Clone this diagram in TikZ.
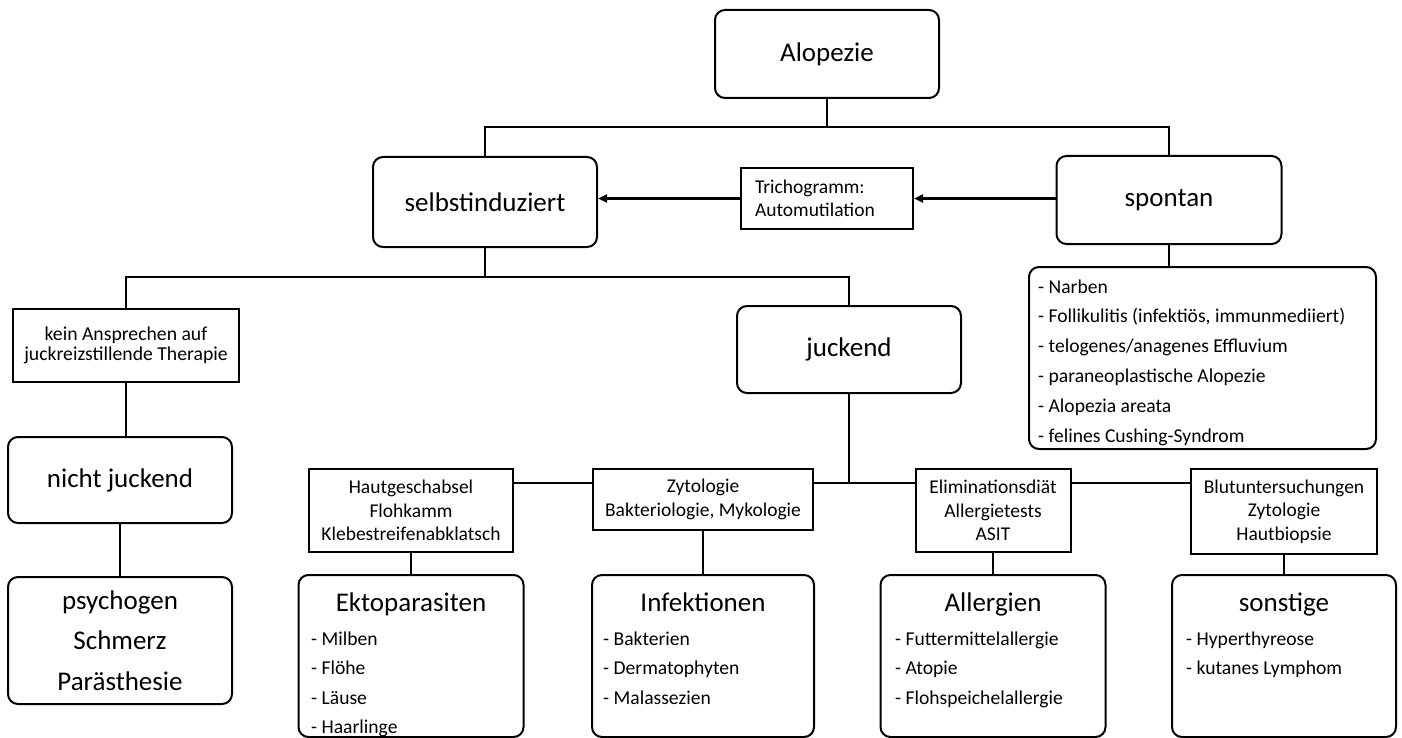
\documentclass[tikz,border=0pt]{standalone}
\usepackage{fontspec}
\setmainfont{Carlito}
\usetikzlibrary{arrows.meta}
\tikzset{
 rbox/.style={draw, line width=2pt, rounded corners=10pt, inner sep=0pt, align=center},
 sbox/.style={draw, line width=2pt, inner sep=0pt, align=center},
 big/.style={font=\fontsize{27}{32}\selectfont},
 small/.style={font=\fontsize{19.5}{23.5}\selectfont},
 conn/.style={line width=2pt},
 arr/.style={line width=2.3pt, -{Triangle[length=9pt,width=8pt]}},
 txt/.style={inner sep=0pt, font=\fontsize{19.6}{23}\selectfont, anchor=base west},
 ttl/.style={inner sep=0pt, font=\fontsize{27}{32}\selectfont, anchor=base},
}
\begin{document}
\begin{tikzpicture}[x=1pt,y=-1pt]
\useasboundingbox (0,0) rectangle (1402,738);
% top level
\node[rbox,big,minimum width=224pt,minimum height=88pt] (alo) at (827,54) {Alopezie};
\node[rbox,big,minimum width=224pt,minimum height=90pt] (selbst) at (485,202) {selbstinduziert};
\node[rbox,big,minimum width=225pt,minimum height=88pt] (spontan) at (1169,200) {spontan};
\node[sbox,align=left,text width=144pt,minimum width=172pt,minimum height=61pt,font=\fontsize{19.5}{23}\selectfont] (tricho) at (827,198.5) {Trichogramm:\\Automutilation};
% spontan list
\node[rbox,minimum width=347pt,minimum height=182pt] (list) at (1202.5,358) {};
\node[txt] (l1) at (1038,293) {- Narben};
\node[txt] (l2) at (1038,322.8) {- Follikulitis (infektiös, immunmediiert)};
\node[txt] (l3) at (1038,352.6) {- telogenes/anagenes Effluvium};
\node[txt] (l4) at (1038,382.4) {- paraneoplastische Alopezie};
\node[txt] (l5) at (1038,412.2) {- Alopezia areata};
\node[txt] (l6) at (1038,442) {- felines Cushing-Syndrom};
% second level
\node[sbox,minimum width=226pt,minimum height=73pt,font=\fontsize{19.7}{20.5}\selectfont] (kein) at (126,345.5) {kein Ansprechen auf\\juckreizstillende Therapie};
\node[rbox,big,minimum width=224pt,minimum height=87pt] (juckend) at (849,349.5) {juckend};
\node[rbox,big,minimum width=224pt,minimum height=86pt] (nicht) at (120,480) {nicht juckend};
\node[rbox,minimum width=224pt,minimum height=127pt,font=\fontsize{27}{40.5}\selectfont] (psych) at (120,640.5) {psychogen\\Schmerz\\Parästhesie};
% test boxes
\node[sbox,small,minimum width=204pt,minimum height=83pt] (haut) at (411,510.5) {Hautgeschabsel\\Flohkamm\\Klebestreifenabklatsch};
\node[sbox,small,minimum width=220pt,minimum height=61pt] (zyto) at (703,499.5) {Zytologie\\Bakteriologie, Mykologie};
\node[sbox,small,minimum width=155pt,minimum height=83pt] (elim) at (993,510.5) {Eliminationsdiät\\Allergietests\\ASIT};
\node[sbox,small,minimum width=186pt,minimum height=85pt] (blut) at (1284,511.5) {Blutuntersuchungen\\Zytologie\\Hautbiopsie};
% bottom boxes
\node[rbox,minimum width=225pt,minimum height=162pt] (ekto) at (411,656) {};
\node[rbox,minimum width=222pt,minimum height=162pt] (infek) at (703,656) {};
\node[rbox,minimum width=225pt,minimum height=162pt] (allerg) at (993,656) {};
\node[rbox,minimum width=224pt,minimum height=162pt] (sonst) at (1284,656) {};
\node[ttl] (ektot) at (411,611) {Ektoparasiten};
\node[ttl] (infekt) at (703,611) {Infektionen};
\node[ttl] (allergt) at (993,611) {Allergien};
\node[ttl] (sonstt) at (1284,611) {sonstige};
\node[txt] (e1) at (311,645) {- Milben};
\node[txt] (e2) at (311,674.5) {- Flöhe};
\node[txt] (e3) at (311,704) {- Läuse};
\node[txt] (e4) at (311,733.5) {- Haarlinge};
\node[txt] (i1) at (603,645) {- Bakterien};
\node[txt] (i2) at (603,674.5) {- Dermatophyten};
\node[txt] (i3) at (603,704) {- Malassezien};
\node[txt] (a1) at (895,645) {- Futtermittelallergie};
\node[txt] (a2) at (895,674.5) {- Atopie};
\node[txt] (a3) at (895,704) {- Flohspeichelallergie};
\node[txt] (s1) at (1186,645) {- Hyperthyreose};
\node[txt] (s2) at (1186,674.5) {- kutanes Lymphom};
% connectors
\coordinate (j1) at (827,127);
\draw[conn] (alo.south) -- (j1);
\draw[conn] (selbst.north) |- (j1) -| (spontan.north);
\draw[arr] (spontan.west |- tricho.east) -- (tricho.east);
\draw[arr] (tricho.west) -- (tricho.west -| selbst.east);
\draw[conn] (spontan.south) -- (spontan.south |- list.north);
\coordinate (j2) at (485,277);
\draw[conn] (selbst.south) -- (j2);
\draw[conn] (kein.north) |- (j2) -| (juckend.north);
\draw[conn] (kein.south) -- (kein.south |- nicht.north);
\draw[conn] (nicht.south) -- (psych.north);
\coordinate (j3) at (849,483);
\draw[conn] (juckend.south) -- (j3);
\draw[conn] (haut.east |- j3) -- (zyto.west |- j3);
\draw[conn] (zyto.east |- j3) -- (elim.west |- j3);
\draw[conn] (elim.east |- j3) -- (blut.west |- j3);
\draw[conn] (haut.south) -- (haut.south |- ekto.north);
\draw[conn] (zyto.south) -- (zyto.south |- infek.north);
\draw[conn] (elim.south) -- (elim.south |- allerg.north);
\draw[conn] (blut.south) -- (blut.south |- sonst.north);
\end{tikzpicture}
\end{document}
